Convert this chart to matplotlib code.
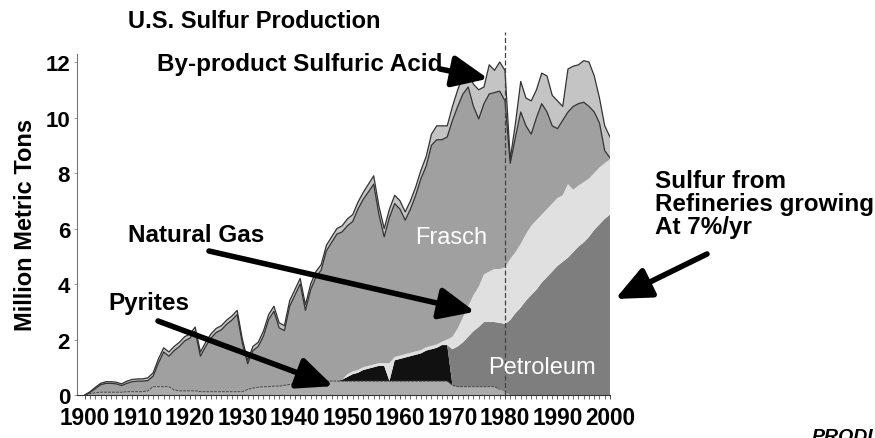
import numpy as np
import matplotlib
matplotlib.use("Agg")
import matplotlib.pyplot as plt
from matplotlib.patches import ArrowStyle
from matplotlib import font_manager as fm

plt.rcParams['font.family'] = ['Liberation Sans', 'DejaVu Sans']

# ---------------- data (million metric tons) ----------------
years = np.arange(1900, 2001)

pyrites = [
    0.0, 0.05, 0.08, 0.1, 0.1, 0.1, 0.1, 0.1, 0.12, 0.12,            # 1900s
    0.12, 0.12, 0.15, 0.3, 0.3, 0.3, 0.3, 0.18, 0.15, 0.15,          # 1910s
    0.15, 0.15, 0.12, 0.12, 0.12, 0.12, 0.12, 0.12, 0.12, 0.12,      # 1920s
    0.12, 0.2, 0.25, 0.28, 0.3, 0.3, 0.32, 0.32, 0.35, 0.38,         # 1930s
    0.4, 0.45, 0.5, 0.5, 0.5, 0.5, 0.5, 0.5, 0.5, 0.5,               # 1940s
    0.5, 0.5, 0.5, 0.5, 0.5, 0.5, 0.5, 0.5, 0.5, 0.5,                # 1950s
    0.5, 0.5, 0.5, 0.5, 0.5, 0.5, 0.5, 0.5, 0.5, 0.5,                # 1960s
    0.35, 0.3, 0.3, 0.3, 0.3, 0.3, 0.3, 0.3, 0.3, 0.2,               # 1970s
    0.1, 0, 0, 0, 0, 0, 0, 0, 0, 0,                                  # 1980s
    0, 0, 0, 0, 0, 0, 0, 0, 0, 0,                                    # 1990s
    0,                                                               # 2000
]

recovered_early = [
    0, 0, 0, 0, 0, 0, 0, 0, 0, 0,
    0, 0, 0, 0, 0, 0, 0, 0, 0, 0,
    0, 0, 0, 0, 0, 0, 0, 0, 0, 0,
    0, 0, 0, 0, 0, 0, 0, 0, 0, 0,
    0, 0, 0, 0, 0, 0, 0, 0, 0, 0.05,
    0.15, 0.25, 0.3, 0.4, 0.45, 0.5, 0.55, 0.55, 0.0, 0.75,
    0.8, 0.85, 0.9, 0.95, 1.0, 1.1, 1.15, 1.2, 1.3, 1.3,
    0, 0, 0, 0, 0, 0, 0, 0, 0, 0,
    0, 0, 0, 0, 0, 0, 0, 0, 0, 0,
    0, 0, 0, 0, 0, 0, 0, 0, 0, 0,
    0,
]

petroleum = [
    0, 0, 0, 0, 0, 0, 0, 0, 0, 0,
    0, 0, 0, 0, 0, 0, 0, 0, 0, 0,
    0, 0, 0, 0, 0, 0, 0, 0, 0, 0,
    0, 0, 0, 0, 0, 0, 0, 0, 0, 0,
    0, 0, 0, 0, 0, 0, 0, 0, 0, 0,
    0, 0, 0, 0, 0, 0, 0, 0, 0, 0,
    0, 0, 0, 0, 0, 0, 0, 0, 0, 0,
    1.3, 1.45, 1.6, 1.8, 2.0, 2.15, 2.33, 2.33, 2.33, 2.4,
    2.46, 2.7, 2.95, 3.15, 3.4, 3.6, 3.8, 4.05, 4.25, 4.45,
    4.65, 4.8, 4.95, 5.15, 5.35, 5.5, 5.7, 5.95, 6.15, 6.35,
    6.5,
]

natural_gas = [
    0, 0, 0, 0, 0, 0, 0, 0, 0, 0,
    0, 0, 0, 0, 0, 0, 0, 0, 0, 0,
    0, 0, 0, 0, 0, 0, 0, 0, 0, 0,
    0, 0, 0, 0, 0, 0, 0, 0, 0, 0,
    0, 0, 0, 0, 0, 0, 0, 0, 0, 0,
    0.1, 0.1, 0.1, 0.1, 0.1, 0.1, 0.1, 0.1, 0.65, 0.12,
    0.12, 0.12, 0.12, 0.12, 0.12, 0.12, 0.12, 0.12, 0.12, 0.2,
    0.45, 0.65, 0.9, 1.1, 1.3, 1.45, 1.72, 1.82, 1.91, 1.94,
    2.04, 2.2, 2.2, 2.3, 2.4, 2.5, 2.5, 2.45, 2.45, 2.45,
    2.45, 2.4, 2.65, 2.25, 2.2, 2.17, 2.1, 2.05, 2.05, 2.0,
    2.0,
]

frasch = [
    0.0, 0.05, 0.15, 0.27, 0.32, 0.32, 0.30, 0.24, 0.30, 0.36,
    0.38, 0.38, 0.37, 0.38, 0.85, 1.25, 1.10, 1.42, 1.60, 1.80,
    1.90, 2.15, 1.28, 1.63, 1.93, 2.13, 2.23, 2.43, 2.58, 2.78,
    1.73, 0.93, 1.35, 1.47, 1.82, 2.42, 2.70, 2.10, 1.97, 2.82,
    3.20, 3.55, 2.55, 3.30, 3.75, 4.00, 4.70, 5.00, 5.30, 5.33,
    5.35, 5.40, 5.80, 6.05, 6.27, 6.50, 5.35, 4.55, 5.25, 5.53,
    5.28, 4.83, 5.18, 5.63, 6.18, 6.53, 7.23, 7.38, 7.28, 7.30,
    7.80, 8.00, 8.05, 7.90, 6.80, 6.05, 6.15, 6.40, 6.36, 6.41,
    6.00, 3.45, 4.15, 4.75, 3.90, 3.30, 3.70, 4.00, 3.50, 2.80,
    2.50, 2.70, 2.60, 3.00, 2.95, 2.88, 2.60, 2.20, 1.60, 0.45,
    0.05,
]

byproduct_acid = [
    0.0, 0.02, 0.05, 0.05, 0.06, 0.06, 0.06, 0.06, 0.08, 0.08,
    0.08, 0.08, 0.1, 0.12, 0.15, 0.15, 0.15, 0.15, 0.15, 0.15,
    0.15, 0.15, 0.15, 0.15, 0.15, 0.15, 0.15, 0.15, 0.15, 0.15,
    0.15, 0.12, 0.15, 0.15, 0.18, 0.18, 0.18, 0.18, 0.18, 0.2,
    0.2, 0.2, 0.2, 0.2, 0.2, 0.2, 0.2, 0.2, 0.2, 0.22,
    0.25, 0.25, 0.25, 0.25, 0.28, 0.3, 0.3, 0.3, 0.3, 0.3,
    0.3, 0.3, 0.3, 0.3, 0.3, 0.35, 0.4, 0.5, 0.5, 0.4,
    0.5, 0.6, 0.65, 0.5, 0.8, 1.05, 0.6, 1.05, 0.8, 1.05,
    1.1, 0.15, 0.5, 1.1, 1.0, 1.2, 1.0, 1.1, 1.3, 1.1,
    1.0, 0.5, 1.55, 1.45, 1.4, 1.5, 1.6, 1.3, 0.9, 0.9,
    0.75,
]

series = [pyrites, recovered_early, petroleum, natural_gas, frasch, byproduct_acid]
colors = ['#ababab', '#111111', '#7e7e7e', '#e0e0e0', '#a0a0a0', '#c4c4c4']

ytick_values = [0, 2, 4, 6, 8, 10, 12]
xtick_values = list(range(1900, 2001, 10))

# ---------------- fonts ----------------
def has_font(name):
    try:
        fm.findfont(fm.FontProperties(family=name, weight='bold'), fallback_to_default=False)
        return True
    except Exception:
        return False

if has_font('Liberation Sans Narrow'):
    xt_family, xt_size = 'Liberation Sans Narrow', 20
elif has_font('DejaVu Sans Condensed'):
    xt_family, xt_size = 'DejaVu Sans Condensed', 17
else:
    xt_family, xt_size = 'Liberation Sans', 16.3

# ---------------- figure ----------------
W, H = 875, 439
fig = plt.figure(figsize=(W / 100, H / 100), dpi=100)
fig.patch.set_facecolor('white')

def fx(px):
    return px / W

def fy(py):
    return 1 - py / H

ax_left, ax_right, ax_top, ax_bottom = 77, 610, 54.7, 396
ax = fig.add_axes([fx(ax_left), fy(ax_bottom), (ax_right - ax_left) / W, (ax_bottom - ax_top) / H])
ax.set_xlim(1898.5, 2000)
ax.set_ylim(0, 12.3)

ax.stackplot(years, *series, colors=colors, linewidth=0)

cum = np.cumsum(np.array(series, dtype=float), axis=0)
ax.plot(years[:80], cum[0][:80], color='#444444', lw=0.7, ls=(0, (3, 1)))
ax.plot(years, cum[4], color='#333333', lw=0.9)
ax.plot(years, cum[5], color='#333333', lw=0.9)

# 1980 dashed divider
ax.plot([1980, 1980], [0, 13.1], color='#444444', lw=0.9, ls=(0, (4, 2)), clip_on=False)

# axes styling
for s in ['top', 'right']:
    ax.spines[s].set_visible(False)
ax.spines['left'].set_color('#777777')
ax.spines['left'].set_linewidth(0.8)
ax.spines['left'].set_linestyle((0, (2, 1)))
ax.spines['bottom'].set_color('#333333')
ax.spines['bottom'].set_linewidth(0.8)

ax.set_yticks(ytick_values)
ax.set_yticklabels([str(v) for v in ytick_values], fontsize=16, fontweight='bold')
ax.set_xticks(xtick_values)
ax.set_xticklabels([str(v) for v in xtick_values], family=xt_family,
                   fontsize=xt_size, fontweight='bold')
ax.set_xticks(np.arange(1900, 2001, 1), minor=True)
ax.tick_params(axis='x', which='major', length=3, width=0.6, pad=5, color='#333333')
ax.tick_params(axis='x', which='minor', length=3, width=0.5, color='#333333')
ax.tick_params(axis='y', which='major', length=2, width=0.5, pad=3, color='#777777')

ax.set_ylabel('Million Metric Tons', fontsize=17, fontweight='bold', labelpad=6)

# inside labels
ax.text(1969.7, 5.7, 'Frasch', color='white', fontsize=17, ha='center', va='center')
ax.text(1987.0, 1.0, 'Petroleum', color='white', fontsize=17, ha='center', va='center')

# title
fig.text(fx(128), fy(22), 'U.S. Sulfur Production', fontsize=17, fontweight='bold',
         ha='left', va='center')

# annotations with arrows
arrow = ArrowStyle('-|>', head_length=0.9, head_width=0.4)
def note(text, txt_px, tail_px, tip_data, **kw):
    fig.text(fx(txt_px[0]), fy(txt_px[1]), text, fontsize=17.5, fontweight='bold',
             ha='left', va='center', **kw)
    ax.annotate('', xy=tip_data, xycoords='data',
                xytext=(tail_px[0], H - tail_px[1]), textcoords='figure pixels',
                arrowprops=dict(arrowstyle=arrow, lw=4, color='black',
                                mutation_scale=24, shrinkA=0, shrinkB=0),
                annotation_clip=False)

note('By-product Sulfuric Acid', (157, 65), (440, 70), (1976.8, 11.4))
note('Natural Gas', (128, 236), (209, 252), (1974.3, 3.0))
note('Pyrites', (108, 304), (158, 322), (1947.3, 0.32))
note('Sulfur from\nRefineries growing\nAt 7%/yr', (655, 205), (707, 255), (2001, 3.46),
     linespacing=1.0)

# partially visible logo text at bottom right
fig.text(fx(812), fy(429), 'PRODUCTS', fontsize=14, fontweight='bold', style='italic',
         ha='left', va='top')

fig.savefig('out.png', dpi=100, facecolor='white')
